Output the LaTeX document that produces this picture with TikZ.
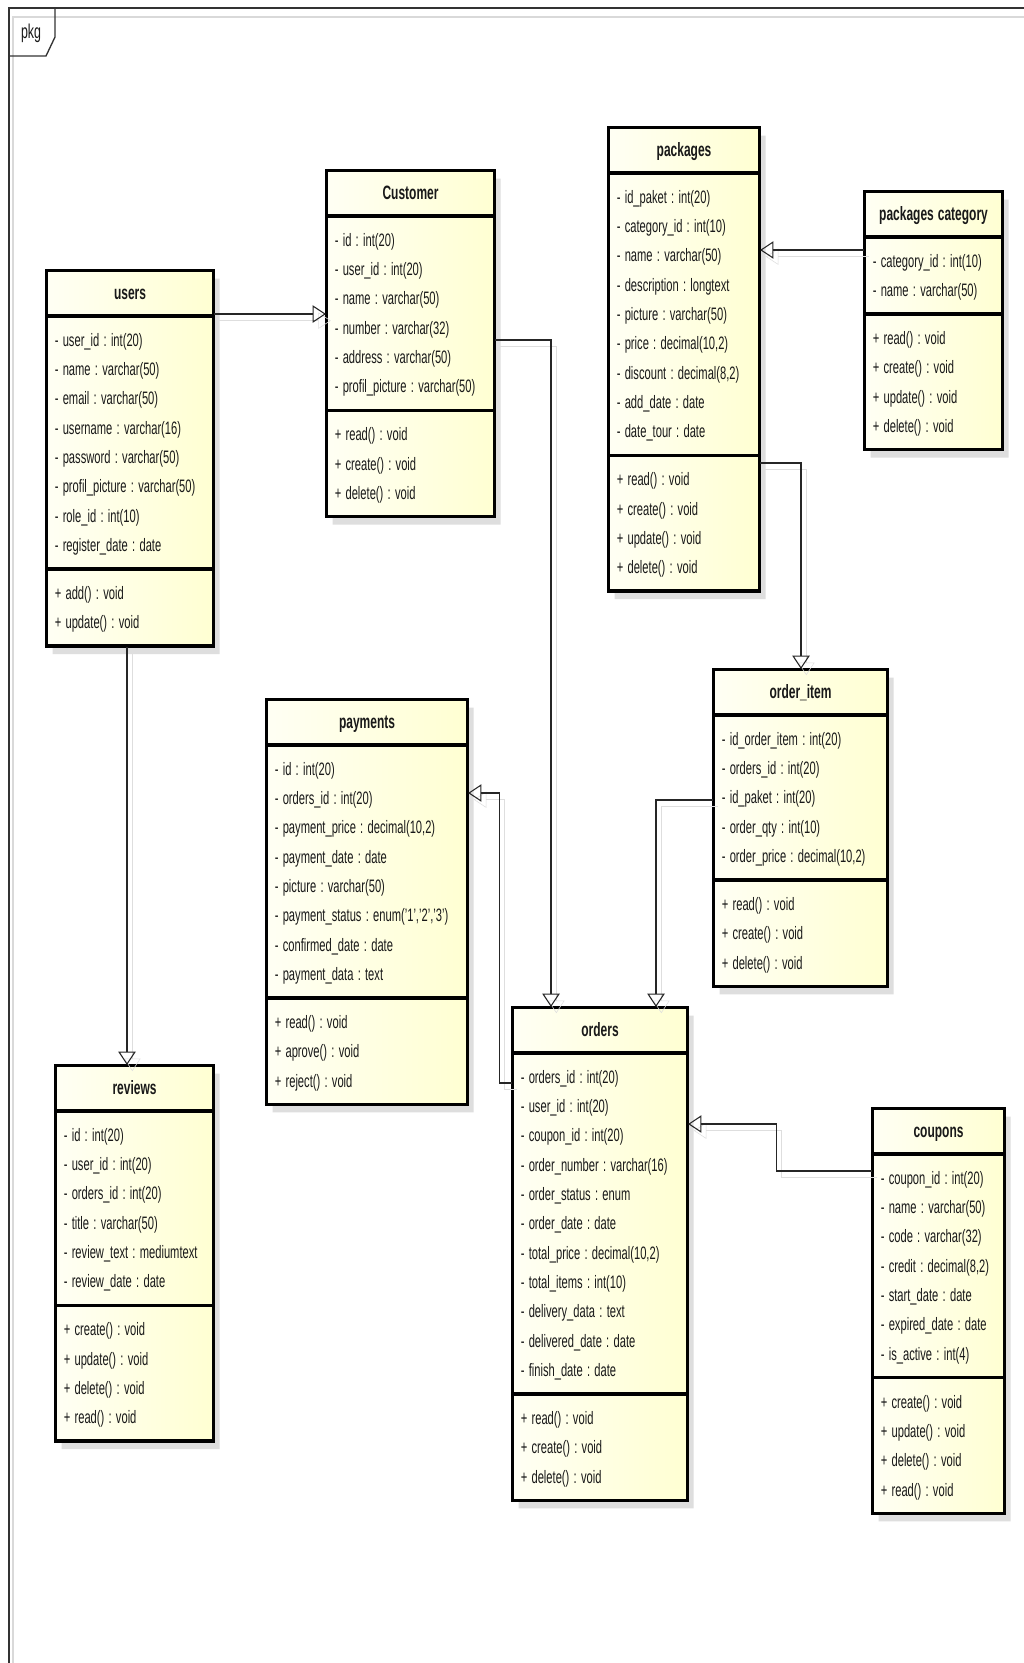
\documentclass[tikz,border=0pt]{standalone}
\usepackage{fontspec}
\setmainfont{Liberation Sans}[FakeStretch=0.62]
\usetikzlibrary{shapes.multipart,shadows,arrows.meta,calc}
\definecolor{clsA}{HTML}{FFFFF4}
\definecolor{clsB}{HTML}{FFFFD2}
\setlength\parindent{0pt}
\frenchspacing
\newcommand\rr{\rule[-6.15pt]{0pt}{22pt}}
\newcommand\ro[1]{\noindent\rr\mbox{\spaceskip3.2pt\relax #1}\par}
\newcommand\ti[1]{\noindent\hbox to \hsize{\hfil\rule[-5.25pt]{0pt}{20.25pt}{\fontsize{14.5}{22}\selectfont\bfseries\spaceskip3pt\relax #1}\hfil}}
\newcommand\clsfont{\fontsize{13.5}{22}\selectfont\frenchspacing}
\tikzset{
  umlclass/.style={rectangle split, rectangle split parts=3, anchor=north west,
    draw=black, line width=0.8pt, left color=clsA, right color=clsB,
    inner xsep=6.2pt, inner ysep=6.5pt,
    font=\clsfont, text=black!90,
    drop shadow={shadow xshift=4.5pt, shadow yshift=-6pt, fill=black!13, opacity=1},
    postaction={draw=black, line width=2.4pt}},
  gen/.style={draw=black!85, line width=0.8pt, -{Triangle[open, length=10pt, width=13pt]},
    preaction={draw=black!13, transform canvas={shift={(4pt,-5pt)}}}},
  frame/.style={draw=black!80, line width=1pt},
}
\begin{document}
\begin{tikzpicture}[x=0.75pt, y=-0.75pt]
\useasboundingbox (0,0) rectangle (1024,1663);
\fill[white] (0,0) rectangle (1024,1663);
% package frame
\draw[black!15, line width=1pt] (13,1663) -- (13,17) -- (1024,17);
\draw[frame] (9,1663) -- (9,8) -- (1024,8);
\draw[frame] (9,56) -- (46,56) -- (55,37) -- (55,8);
\node[font=\fontsize{15}{16}\selectfont, text=black!90] (pkg) at (31,33) {pkg};

% classes
\node[umlclass, text width=112.85pt] (users) at (46,270) {\ti{users}
\nodepart{two}\ro{- user\_id : int(20)}\ro{- name : varchar(50)}\ro{- email : varchar(50)}\ro{- username : varchar(16)}\ro{- password : varchar(50)}\ro{- profil\_picture : varchar(50)}\ro{- role\_id : int(10)}\ro{- register\_date : date}
\nodepart{three}\ro{+ add() : void}\ro{+ update() : void}};

\node[umlclass, text width=113.6pt] (Customer) at (326,170) {\ti{Customer}
\nodepart{two}\ro{- id : int(20)}\ro{- user\_id : int(20)}\ro{- name : varchar(50)}\ro{- number : varchar(32)}\ro{- address : varchar(50)}\ro{- profil\_picture : varchar(50)}
\nodepart{three}\ro{+ read() : void}\ro{+ create() : void}\ro{+ delete() : void}};

\node[umlclass, text width=100.85pt] (packages) at (608,127) {\ti{packages}
\nodepart{two}\ro{- id\_paket : int(20)}\ro{- category\_id : int(10)}\ro{- name : varchar(50)}\ro{- description : longtext}\ro{- picture : varchar(50)}\ro{- price : decimal(10,2)}\ro{- discount : decimal(8,2)}\ro{- add\_date : date}\ro{- date\_tour : date}
\nodepart{three}\ro{+ read() : void}\ro{+ create() : void}\ro{+ update() : void}\ro{+ delete() : void}};

\node[umlclass, text width=91.1pt] (pkgcat) at (864,191) {\ti{packages category}
\nodepart{two}\ro{- category\_id : int(10)}\ro{- name : varchar(50)}
\nodepart{three}\ro{+ read() : void}\ro{+ create() : void}\ro{+ update() : void}\ro{+ delete() : void}};

\node[umlclass, text width=118.1pt] (orderitem) at (713,669) {\ti{order\_item}
\nodepart{two}\ro{- id\_order\_item : int(20)}\ro{- orders\_id : int(20)}\ro{- id\_paket : int(20)}\ro{- order\_qty : int(10)}\ro{- order\_price : decimal(10,2)}
\nodepart{three}\ro{+ read() : void}\ro{+ create() : void}\ro{+ delete() : void}};

\node[umlclass, text width=138.35pt] (payments) at (266,699) {\ti{payments}
\nodepart{two}\ro{- id : int(20)}\ro{- orders\_id : int(20)}\ro{- payment\_price : decimal(10,2)}\ro{- payment\_date : date}\ro{- picture : varchar(50)}\ro{- payment\_status : enum('1','2','3')}\ro{- confirmed\_date : date}\ro{- payment\_data : text}
\nodepart{three}\ro{+ read() : void}\ro{+ aprove() : void}\ro{+ reject() : void}};

\node[umlclass, text width=118.85pt] (orders) at (512,1007) {\ti{orders}
\nodepart{two}\ro{- orders\_id : int(20)}\ro{- user\_id : int(20)}\ro{- coupon\_id : int(20)}\ro{- order\_number : varchar(16)}\ro{- order\_status : enum}\ro{- order\_date : date}\ro{- total\_price : decimal(10,2)}\ro{- total\_items : int(10)}\ro{- delivery\_data : text}\ro{- delivered\_date : date}\ro{- finish\_date : date}
\nodepart{three}\ro{+ read() : void}\ro{+ create() : void}\ro{+ delete() : void}};

\node[umlclass, text width=86.6pt] (coupons) at (872,1108) {\ti{coupons}
\nodepart{two}\ro{- coupon\_id : int(20)}\ro{- name : varchar(50)}\ro{- code : varchar(32)}\ro{- credit : decimal(8,2)}\ro{- start\_date : date}\ro{- expired\_date : date}\ro{- is\_active : int(4)}
\nodepart{three}\ro{+ create() : void}\ro{+ update() : void}\ro{+ delete() : void}\ro{+ read() : void}};

\node[umlclass, text width=106.1pt] (reviews) at (55,1065) {\ti{reviews}
\nodepart{two}\ro{- id : int(20)}\ro{- user\_id : int(20)}\ro{- orders\_id : int(20)}\ro{- title : varchar(50)}\ro{- review\_text : mediumtext}\ro{- review\_date : date}
\nodepart{three}\ro{+ create() : void}\ro{+ update() : void}\ro{+ delete() : void}\ro{+ read() : void}};

% connectors
\draw[gen] ($(users.north east)+(0,44)$) -- ($(Customer.north west)+(0,144)$);
\draw[gen] ($(Customer.north east)+(0,170)$) -| ($(orders.north west)+(39,0)$);
\draw[gen] ($(pkgcat.north west)+(0,59)$) -- ($(packages.north east)+(0,123)$);
\draw[gen] ($(packages.north east)+(0,336)$) -| ($(orderitem.north west)+(88,0)$);
\draw[gen] ($(orderitem.north west)+(0,131)$) -| ($(orders.north west)+(144,0)$);
\draw[gen] ($(orders.north west)+(0,76)$) -| ($(payments.north east)+(31,94)$) -- ($(payments.north east)+(0,94)$);
\draw[gen] ($(coupons.north west)+(0,63)$) -| ($(orders.north east)+(88,117)$) -- ($(orders.north east)+(0,117)$);
\draw[gen] ($(users.south west)+(81,0)$) -- ($(reviews.north west)+(72,0)$);
\end{tikzpicture}
\end{document}
